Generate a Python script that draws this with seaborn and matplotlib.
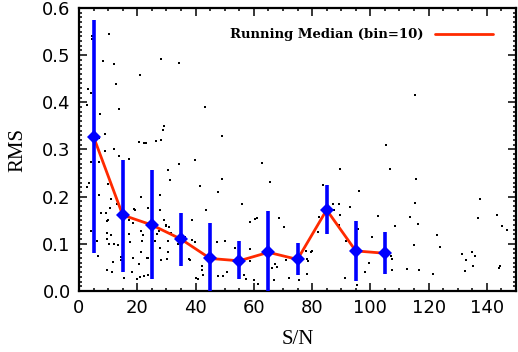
import numpy as np
import pandas as pd
import matplotlib
matplotlib.use("Agg")
import matplotlib.pyplot as plt
import seaborn as sns
from matplotlib.ticker import MultipleLocator, FormatStrFormatter

# ---- data ----
sn = [10.4, 4.3, 4.3, 8.3, 11.9, 28.0, 34.2, 21.1, 12.8, 3.1, 4.2, 2.8, 13.9, 7.3, 43.2, 29.1, 28.9, 9.0, 7.0, 49.2,
      20.5, 22.3, 23.1, 26.3, 28.0, 12.1, 4.1, 9.0, 6.8, 13.9, 17.2, 39.8, 49.0, 30.6,
      115.4, 105.5, 106.9, 89.7, 62.7, 65.5, 115.7,
      10.0, 3.6, 2.8, 6.9, 11.1, 13.2, 7.7, 9.1, 10.8, 10.0, 9.6, 4.0, 6.2, 6.6, 9.5, 11.0, 9.6, 10.4, 12.0, 13.3,
      11.7, 11.2, 9.5, 14.3, 14.3, 15.3, 18.8, 19.3, 17.0, 18.4, 17.6, 17.2, 21.2, 21.4, 22.0, 21.5, 21.3, 18.6,
      18.3, 20.7, 23.4, 23.7, 22.3, 20.0, 21.0, 23.8, 23.8, 27.7, 31.1, 27.9, 29.3, 29.7, 30.0, 30.8, 27.4, 26.8,
      26.0, 27.9, 30.6, 28.0, 30.3, 30.6, 31.5, 34.0, 34.4, 41.7, 47.6, 43.5, 38.9, 36.3, 38.7, 39.7, 38.2, 37.6,
      38.1, 40.1, 40.8, 42.2, 42.3, 42.5, 46.4, 47.5, 50.0, 47.7, 49.4, 50.7, 53.4,
      55.9, 58.6, 60.5, 61.0, 68.6, 70.3, 58.6, 58.6, 56.8, 57.4, 59.9, 61.3, 67.4, 68.1, 66.4, 67.0, 71.1, 72.1,
      77.8, 78.2, 78.7, 79.7, 80.0, 75.5, 78.2, 82.1, 82.5, 83.7, 87.1, 89.4, 87.5, 89.5, 89.4, 91.6, 93.0, 96.1,
      95.7, 91.3, 95.5, 98.2, 99.6, 100.7, 102.5,
      115.4, 113.5, 108.6, 116.4, 122.9, 115.1, 123.9, 107.1, 107.4, 107.6, 112.7, 116.7, 121.5, 137.8, 136.9,
      143.5, 145.3, 146.9, 131.3, 134.8, 132.8, 136.0, 135.3, 132.5, 144.5, 144.2]
rms = [0.545, 0.540, 0.534, 0.487, 0.481, 0.492, 0.484, 0.457, 0.438, 0.428, 0.419, 0.394, 0.385, 0.375, 0.390,
       0.349, 0.342, 0.332, 0.324, 0.328, 0.316, 0.313, 0.314, 0.317, 0.320, 0.302, 0.273, 0.297, 0.273, 0.286,
       0.280, 0.278, 0.237, 0.257,
       0.415, 0.309, 0.259, 0.259, 0.271, 0.232, 0.237,
       0.227, 0.230, 0.220, 0.204, 0.196, 0.184, 0.165, 0.165, 0.176, 0.150, 0.148, 0.127, 0.105, 0.075, 0.123,
       0.118, 0.111, 0.100, 0.100, 0.098, 0.061, 0.040, 0.045, 0.072, 0.066, 0.028, 0.174, 0.172, 0.150, 0.144,
       0.104, 0.121, 0.199, 0.128, 0.118, 0.105, 0.082, 0.071, 0.040, 0.057, 0.071, 0.069, 0.032, 0.025, 0.029,
       0.033, 0.175, 0.172, 0.235, 0.204, 0.150, 0.140, 0.138, 0.135, 0.127, 0.121, 0.107, 0.092, 0.082, 0.065,
       0.068, 0.105, 0.124, 0.100, 0.269, 0.223, 0.209, 0.172, 0.151, 0.114, 0.109, 0.103, 0.098, 0.068, 0.066,
       0.028, 0.025, 0.052, 0.045, 0.033, 0.068, 0.104, 0.106, 0.032, 0.031, 0.041, 0.091,
       0.184, 0.146, 0.153, 0.155, 0.155, 0.135, 0.088, 0.064, 0.033, 0.026, 0.023, 0.015, 0.058, 0.051, 0.048,
       0.023, 0.066, 0.028, 0.085, 0.068, 0.063, 0.083, 0.085, 0.024, 0.037, 0.126, 0.157, 0.225, 0.185, 0.185,
       0.171, 0.162, 0.139, 0.107, 0.179, 0.211, 0.132, 0.028, 0.013, 0.040, 0.059, 0.115, 0.158,
       0.187, 0.156, 0.138, 0.141, 0.119, 0.098, 0.093, 0.074, 0.068, 0.044, 0.047, 0.044, 0.035, 0.195, 0.155,
       0.161, 0.138, 0.129, 0.078, 0.082, 0.066, 0.074, 0.054, 0.042, 0.054, 0.049]

bin_center = [5, 15, 25, 35, 45, 55, 65, 75, 85, 95, 105]
median = [0.327, 0.161, 0.140, 0.110, 0.069, 0.064, 0.082, 0.067, 0.172, 0.085, 0.080]
err_hi = [0.575, 0.278, 0.256, 0.165, 0.145, 0.106, 0.170, 0.102, 0.225, 0.148, 0.125]
err_lo = [0.080, 0.041, 0.025, 0.053, -0.020, 0.025, -0.020, 0.033, 0.120, 0.021, 0.037]

legend_label = "Running Median (bin=10)"

# ---- plot ----
sns.set_style("ticks")
plt.rcParams['font.family'] = ['DejaVu Sans']
for k in ["text.color", "axes.labelcolor", "xtick.color", "ytick.color", "axes.edgecolor"]:
    plt.rcParams[k] = "black"

fig = plt.figure(figsize=(5.18, 3.52), dpi=100)
ax = fig.add_axes([79/518, 1 - 291/352, (516 - 79)/518, (291 - 8)/352])

pts = pd.DataFrame({"sn": sn, "rms": rms})
sns.scatterplot(data=pts, x="sn", y="rms", ax=ax, color="black", s=4, marker="s",
                linewidth=0, legend=False, zorder=1)

med = pd.DataFrame({"sn": bin_center, "rms": median})
sns.lineplot(data=med, x="sn", y="rms", ax=ax, color="#ff2a00", linewidth=2.0,
             label=legend_label, zorder=2)

lo = np.array(median) - np.array(err_lo)
hi = np.array(err_hi) - np.array(median)
ax.errorbar(bin_center, median, yerr=[lo, hi], fmt="D", color="#0000ff", ecolor="#0000ff",
            elinewidth=2.6, capsize=4, capthick=2.6, markersize=7.5, markeredgewidth=0,
            zorder=3)

ax.set_xlim(0, 150)
ax.set_ylim(0, 0.6)
ax.xaxis.set_major_locator(MultipleLocator(20))
ax.xaxis.set_minor_locator(MultipleLocator(5))
ax.yaxis.set_major_locator(MultipleLocator(0.1))
ax.yaxis.set_minor_locator(MultipleLocator(0.01))
ax.yaxis.set_major_formatter(FormatStrFormatter("%.1f"))

for s in ax.spines.values():
    s.set_linewidth(1.6)
    s.set_visible(True)
    s.set_color("black")
ax.tick_params(which="both", direction="in", top=True, right=True, width=1.1, colors="black")
ax.tick_params(which="major", length=5.5, labelsize=13, pad=6)
ax.tick_params(which="minor", length=2.5)

ax.set_xlabel("S/N", family="Liberation Serif", fontsize=15, labelpad=9)
ax.set_ylabel("RMS", family="Liberation Serif", fontsize=15, labelpad=11)

leg = ax.legend(loc="upper right", bbox_to_anchor=(0.975, 0.97), frameon=False, markerfirst=False,
                handlelength=4.4, handletextpad=0.9,
                prop={"family": "DejaVu Serif", "weight": "bold", "size": 9.5})
for t in leg.get_texts():
    t.set_color("black")

fig.savefig("out.png", dpi=100)
